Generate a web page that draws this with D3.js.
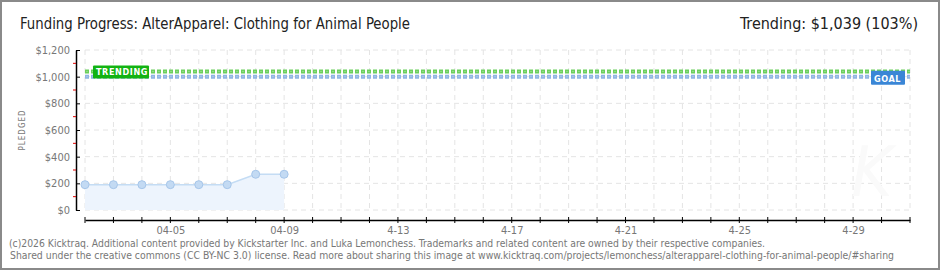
<!DOCTYPE html>
<html>
<head>
<meta charset="utf-8">
<script src="https://cdn.jsdelivr.net/npm/d3@7"></script>
<style>
  body { margin: 0; background: #fff; }
  svg text { font-family: "DejaVu Sans Condensed", "Liberation Sans Narrow", sans-serif; }
</style>
</head>
<body>
<div id="chart"></div>
<script>
// data
const dates = ["2026-04-02", "2026-04-03", "2026-04-04", "2026-04-05", "2026-04-06", "2026-04-07", "2026-04-08", "2026-04-09"];
const pledged = [190, 190, 190, 190, 190, 190, 268, 268];
const goal = 1000;
const trending = 1039;
const yTicks = [0, 200, 400, 600, 800, 1000, 1200];
const yMinor = [100, 300, 500, 700, 900, 1100];
const xLabelDates = ["2026-04-05", "2026-04-09", "2026-04-13", "2026-04-17", "2026-04-21", "2026-04-25", "2026-04-29"];
const xLabels = ["04-05", "04-09", "4-13", "4-17", "4-21", "4-25", "4-29"];

const W = 940, H = 270;
const margin = {top: 50, right: 30, bottom: 60, left: 85};
const parse = d3.timeParse("%Y-%m-%d");

const svg = d3.select("#chart").append("svg")
    .attr("width", W)
    .attr("height", H);

svg.append("rect")
    .attr("x", 1).attr("y", 1)
    .attr("width", W - 2).attr("height", H - 2)
    .attr("fill", "#fff")
    .attr("stroke", "#8a8a8a")
    .attr("stroke-width", 2);

const x = d3.scaleTime()
    .domain([parse("2026-04-02"), parse("2026-05-01")])
    .range([margin.left, W - margin.right]);

const y = d3.scaleLinear()
    .domain([0, 1200])
    .range([H - margin.bottom, margin.top]);

const days = d3.timeDay.range(parse("2026-04-02"), d3.timeDay.offset(parse("2026-05-01"), 1));

// grid
svg.append("g").selectAll("line")
    .data(days)
    .join("line")
    .attr("x1", d => x(d)).attr("x2", d => x(d))
    .attr("y1", y(1200)).attr("y2", y(0))
    .attr("stroke", "#e4e4e4")
    .attr("stroke-dasharray", "5,4");

svg.append("g").selectAll("line")
    .data(yTicks)
    .join("line")
    .attr("x1", x.range()[0]).attr("x2", x.range()[1])
    .attr("y1", d => y(d)).attr("y2", d => y(d))
    .attr("stroke", "#e4e4e4")
    .attr("stroke-dasharray", "5,4");

// faint watermark
svg.append("text")
    .attr("x", 872).attr("y", 196)
    .attr("text-anchor", "middle")
    .attr("font-size", 70)
    .attr("font-style", "italic")
    .attr("fill", "#fafafa")
    .text("K");

// area + line
const pts = dates.map((d, i) => ({date: parse(d), v: pledged[i]}));

svg.append("path")
    .datum(pts)
    .attr("fill", "#edf4fd")
    .attr("d", d3.area().x(d => x(d.date)).y0(y(0)).y1(d => y(d.v)));

svg.append("path")
    .datum(pts)
    .attr("fill", "none")
    .attr("stroke", "#c4dcf4")
    .attr("stroke-width", 1.5)
    .attr("d", d3.line().x(d => x(d.date)).y(d => y(d.v)));

svg.append("g").selectAll("circle")
    .data(pts)
    .join("circle")
    .attr("cx", d => x(d.date))
    .attr("cy", d => y(d.v))
    .attr("r", 4)
    .attr("fill", "#c3daf3")
    .attr("stroke", "#a6c6ea")
    .attr("stroke-width", 1);

// goal and trending lines
function dottedLine(val, outer, inner) {
  svg.append("line")
      .attr("x1", x.range()[0]).attr("x2", x.range()[1])
      .attr("y1", y(val)).attr("y2", y(val))
      .attr("stroke", outer).attr("stroke-width", 4)
      .attr("stroke-dasharray", "4,2");
  svg.append("line")
      .attr("x1", x.range()[0] + 1.5).attr("x2", x.range()[1])
      .attr("y1", y(val)).attr("y2", y(val))
      .attr("stroke", inner).attr("stroke-width", 1)
      .attr("stroke-dasharray", "1,5");
}
dottedLine(goal, "#8fb5e3", "#c9dcf3");
dottedLine(trending, "#6bcf5c", "#b5e8ad");

// trending badge
svg.append("rect")
    .attr("x", 93).attr("y", y(trending) - 6)
    .attr("width", 56).attr("height", 13)
    .attr("rx", 1)
    .attr("fill", "#12b312");
svg.append("text")
    .attr("x", 96).attr("y", y(trending) + 4)
    .attr("font-size", 9).attr("font-weight", "bold")
    .attr("fill", "#fff")
    .attr("letter-spacing", 0.6)
    .text("TRENDING");

// goal badge
svg.append("rect")
    .attr("x", 871).attr("y", y(goal) - 6)
    .attr("width", 34).attr("height", 14)
    .attr("rx", 1)
    .attr("fill", "#3a86d6");
svg.append("text")
    .attr("x", 874).attr("y", y(goal) + 5)
    .attr("font-size", 9).attr("font-weight", "bold")
    .attr("fill", "#fff")
    .attr("letter-spacing", 0.6)
    .text("GOAL");

// y axis
const yAxisX = 76;
const yAxis = svg.append("g")
    .attr("transform", `translate(${yAxisX},0)`)
    .call(d3.axisLeft(y).tickValues(yTicks).tickSize(0).tickPadding(6)
        .tickFormat(d => "$" + d3.format(",")(d)));
yAxis.select(".domain").attr("stroke", "#000").attr("stroke-width", 1.5);
yAxis.selectAll("text").attr("fill", "#777").attr("font-size", 11);
yAxis.selectAll(".tick").append("line")
    .attr("x1", 0).attr("x2", 4).attr("stroke", "#000");
svg.append("g").selectAll("line")
    .data(yMinor)
    .join("line")
    .attr("x1", yAxisX - 3).attr("x2", yAxisX)
    .attr("y1", d => y(d)).attr("y2", d => y(d))
    .attr("stroke", "#e00000");

svg.append("text")
    .attr("transform", `translate(25,${(y(0) + y(1200)) / 2}) rotate(-90)`)
    .attr("text-anchor", "middle")
    .attr("font-size", 8)
    .attr("letter-spacing", 1)
    .attr("fill", "#777")
    .text("PLEDGED");

// x axis
const xAxisY = 220;
const xAxis = svg.append("g")
    .attr("transform", `translate(0,${xAxisY})`)
    .call(d3.axisBottom(x).tickValues(xLabelDates.map(parse)).tickSize(0).tickPadding(6)
        .tickFormat((d, i) => xLabels[i]));
xAxis.select(".domain").attr("stroke", "#000").attr("stroke-width", 1.5);
xAxis.selectAll("text").attr("fill", "#777").attr("font-size", 11);
svg.append("g").selectAll("line")
    .data(days)
    .join("line")
    .attr("x1", d => x(d)).attr("x2", d => x(d))
    .attr("y1", xAxisY - 3).attr("y2", xAxisY + 3)
    .attr("stroke", "#000");

// title
svg.append("text")
    .attr("x", 20).attr("y", 29)
    .attr("font-size", 16)
    .attr("font-weight", 300)
    .attr("fill", "#222")
    .attr("textLength", 390)
    .attr("lengthAdjust", "spacingAndGlyphs")
    .text("Funding Progress: AlterApparel: Clothing for Animal People");

svg.append("text")
    .attr("x", 918).attr("y", 29)
    .attr("text-anchor", "end")
    .attr("font-size", 16)
    .attr("font-weight", 300)
    .attr("fill", "#222")
    .text("Trending:  $" + d3.format(",")(trending) + " (103%)");

// footer
svg.append("text")
    .attr("x", 9).attr("y", 247)
    .attr("font-size", 10.5)
    .attr("fill", "#777")
    .attr("textLength", 756)
    .attr("lengthAdjust", "spacingAndGlyphs")
    .text("(c)2026 Kicktraq. Additional content provided by Kickstarter Inc. and Luka Lemonchess. Trademarks and related content are owned by their respective companies.");
svg.append("text")
    .attr("x", 10).attr("y", 259)
    .attr("font-size", 10.5)
    .attr("fill", "#777")
    .attr("textLength", 884)
    .attr("lengthAdjust", "spacingAndGlyphs")
    .text("Shared under the creative commons (CC BY-NC 3.0) license. Read more about sharing this image at www.kicktraq.com/projects/lemonchess/alterapparel-clothing-for-animal-people/#sharing");
</script>
</body>
</html>
